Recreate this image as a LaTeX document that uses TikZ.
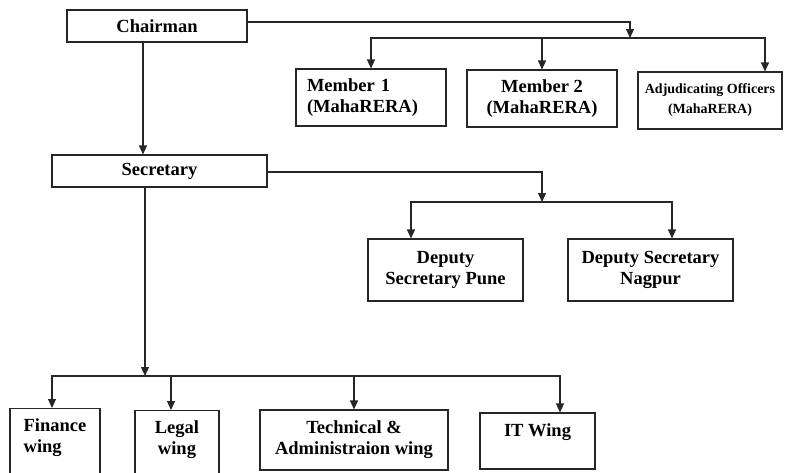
\documentclass[tikz,border=0pt]{standalone}
\usepackage{fontspec}
\setmainfont{Liberation Serif}
\usetikzlibrary{arrows.meta}
\tikzset{
  box/.style={draw=black!85, line width=1.1pt, inner sep=3pt, align=center,
    font=\bfseries\fontsize{18.5}{21}\selectfont},
  arr/.style={draw=black!85, line width=1.1pt, -{Triangle[length=9pt,width=8pt]}},
}
\begin{document}
\begin{tikzpicture}[x=1pt,y=-1pt]
    \clip (0,0) rectangle (785,472);
    % chairman and members
    \node[box, minimum width=180, minimum height=32] (chair) at (157,26) {Chairman};
    \node[box, minimum width=150, minimum height=57, text width=128, align=left] (m1) at (371,97.5) {Member 1\\(MahaRERA)};
    \node[box, minimum width=150, minimum height=57] (m2) at (542,98.5) {Member 2\\(MahaRERA)};
    \node[box, minimum width=144, minimum height=57, font=\bfseries\fontsize{14}{20}\selectfont] (adj) at (710,100.5) {Adjudicating Officers\\(MahaRERA)};
    \coordinate (cj) at (630,38);
    \draw[arr] ([yshift=4pt]chair.east) -| (cj);
    \draw[arr] (cj) -| (m1.north);
    \draw[arr] (cj) -| (m2.north);
    \draw[arr] (cj) -| ([xshift=55pt]adj.north);
    % secretary and deputies
    \node[box, minimum width=215, minimum height=32] (sec) at (159.5,171) {Secretary};
    \draw[arr] ([xshift=-14pt]chair.south) -- ([xshift=-14pt]chair.south |- sec.north);
    \node[box, minimum width=155, minimum height=62] (pune) at (445.5,270) {Deputy\\Secretary Pune};
    \node[box, minimum width=165, minimum height=62] (nagpur) at (650.5,270) {Deputy Secretary\\Nagpur};
    \coordinate (dj) at (542,202);
    \draw[arr] ([yshift=-1pt]sec.east) -| (dj);
    \draw[arr] (dj) -| ([xshift=-34.5pt]pune.north);
    \draw[arr] (dj) -| ([xshift=21.5pt]nagpur.north);
    % wings
    \node[box, anchor=north, minimum width=90, inner ysep=10pt, align=left] (fin) at (55,408) {Finance\\wing\\~\\~};
    \node[box, anchor=north, minimum width=84, inner ysep=10pt] (legal) at (177,410) {Legal\\wing\\~\\~};
    \node[box, minimum width=188, minimum height=60] (tech) at (354,440) {Technical \&\\Administraion wing};
    \node[box, minimum width=115, minimum height=56] (it) at (537.5,441) {IT Wing\\~};
    \coordinate (wj) at (145,376);
    \draw[arr] (sec.south -| wj) -- (wj);
    \draw[arr] (wj) -| ([xshift=-3pt]fin.north);
    \draw[arr] (wj) -| ([xshift=-6pt]legal.north);
    \draw[arr] (wj) -| (tech.north);
    \draw[arr] (wj) -| ([xshift=22.5pt]it.north);
\end{tikzpicture}
\end{document}
